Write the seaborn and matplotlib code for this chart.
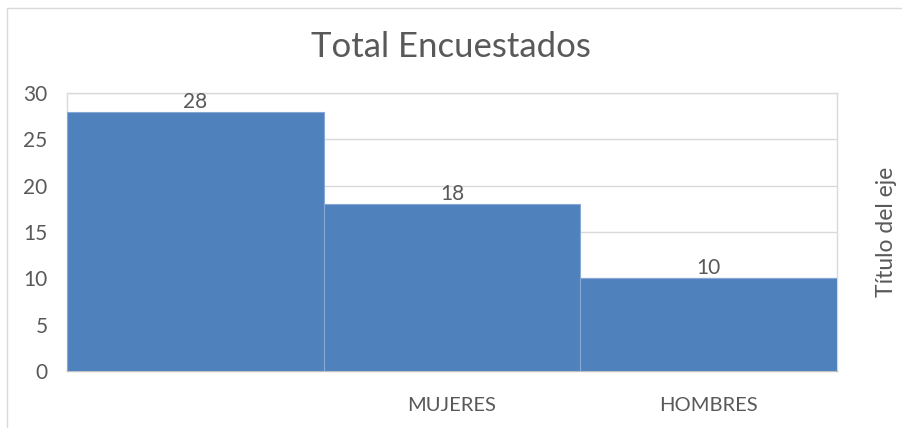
import matplotlib
matplotlib.use("Agg")
import matplotlib.pyplot as plt
import seaborn as sns
import pandas as pd
from matplotlib.lines import Line2D

categories = ["", "MUJERES", "HOMBRES"]
values = [28, 18, 10]
yticks = [0, 5, 10, 15, 20, 25, 30]

sns.set_theme(style="white")
plt.rcParams['font.family'] = ['Lato', 'DejaVu Sans']

text_color = "#595959"
grid_color = "#D9D9D9"
bar_color = "#4F81BD"

fig = plt.figure(figsize=(9.02, 4.28), dpi=100)
ax = fig.add_axes([67/902, 1-371/428, (837-67)/902, (371-93)/428])

df = pd.DataFrame({"cat": [f"c{i}" for i in range(len(categories))], "val": values})
sns.barplot(data=df, x="cat", y="val", ax=ax, color=bar_color, saturation=1,
            width=1.0, edgecolor="#86A8D6", linewidth=0.8, zorder=3)

ax.set_ylim(0, 30)
ax.set_xlim(-0.5, len(categories) - 0.5)
ax.set_yticks(yticks)
ax.set_yticklabels([str(t) for t in yticks], fontsize=15, color=text_color)
ax.set_xticks(range(len(categories)))
ax.set_xticklabels(categories, fontsize=14.5, color=text_color)
ax.tick_params(axis="x", length=0, pad=19)
ax.tick_params(axis="y", length=0, pad=14)
ax.set_xlabel("")
ax.set_ylabel("")
ax.yaxis.grid(True, color=grid_color, linewidth=1, zorder=0)
ax.set_axisbelow(True)
for s in ["left", "right", "top"]:
    ax.spines[s].set_visible(True)
    ax.spines[s].set_color(grid_color)
    ax.spines[s].set_linewidth(1)
ax.spines["bottom"].set_color("#BFBFBF")
ax.spines["bottom"].set_linewidth(1)

for c in ax.containers:
    ax.bar_label(c, labels=[str(v) for v in values], fontsize=15, color=text_color, padding=0)

ax.text(1.064, 0.5, "Título del eje", rotation=90, transform=ax.transAxes,
        ha="center", va="center", fontsize=16.5, color=text_color)

fig.text(0.5, 1-47/428, "Total Encuestados", ha="center", va="center",
         fontsize=25, color=text_color)

# chart border
fig.add_artist(Line2D([7/902, 1.0], [1-8/428, 1-8/428], transform=fig.transFigure,
                      color=grid_color, linewidth=1))
fig.add_artist(Line2D([7/902, 7/902], [0, 1-8/428], transform=fig.transFigure,
                      color=grid_color, linewidth=1))

fig.savefig("out.png", dpi=100)
